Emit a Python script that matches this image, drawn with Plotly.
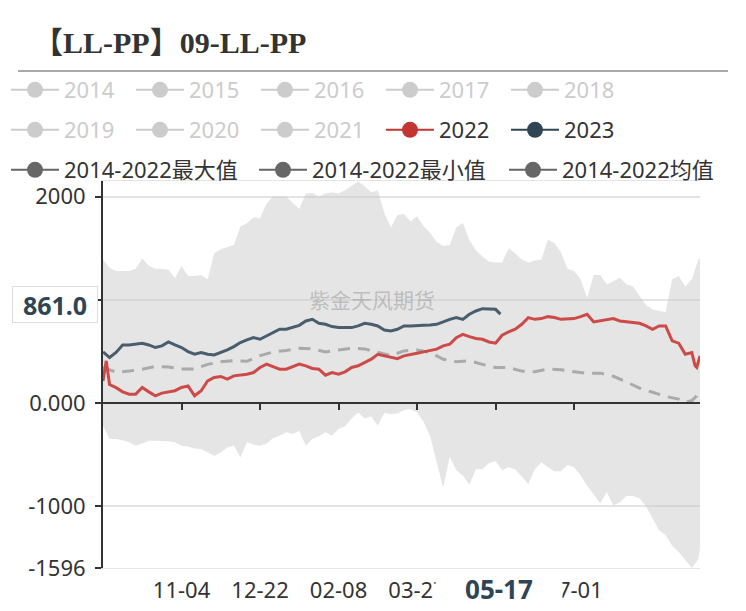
import plotly.graph_objects as go
import pandas as pd

# ---------------- data ----------------
# category axis: every calendar day of the season (leap-year calendar), labelled MM-DD
all_days = pd.date_range("2019-09-17", "2020-09-16").strftime("%m-%d").tolist()
tick_labels = ["11-04", "12-22", "02-08", "03-27", "05-14", "07-01"]
tick_texts = ["11-04", "12-22", "02-08", "03-27", "", "07-01"]  # 05-14 sits under the pointer label

# band (2014-2022 max / min), sampled every 4 days
band_days = all_days[::4] + [all_days[-1]]
max_vals = [1391, 1310, 1278, 1278, 1278, 1300, 1400, 1330, 1300, 1300,
            1290, 1210, 1327, 1230, 1230, 1240, 1200, 1450, 1490, 1510,
            1530, 1710, 1740, 1800, 1790, 1930, 2000, 2000, 2000, 1940,
            1880, 2030, 2035, 2000, 2030, 2040, 2030, 2060, 2100, 2145,
            2100, 2040, 2060, 1840, 1700, 1820, 1830, 1760, 1810, 1713,
            1650, 1560, 1520, 1530, 1700, 1745, 1580, 1480, 1420, 1370,
            1360, 1360, 1500, 1450, 1390, 1360, 1380, 1390, 1584, 1550,
            1460, 1300, 1280, 1200, 1020, 1240, 1240, 1150, 1180, 1214,
            1150, 1130, 1040, 950, 905, 890, 880, 1200, 1230, 1130,
            1200, 1391, 1400]
min_vals = [-219, -348, -348, -360, -380, -412, -390, -364, -364, -364,
            -370, -380, -412, -420, -440, -444, -480, -509, -477, -430,
            -410, -525, -380, -400, -412, -390, -340, -316, -283, -300,
            -267, -412, -348, -320, -283, -316, -250, -225, -150, -90,
            -150, -130, -219, -95, -106, -100, -70, -58, -90, -180,
            -320, -560, -820, -520, -650, -700, -790, -638, -640, -580,
            -560, -650, -620, -640, -710, -782, -640, -573, -620, -660,
            -660, -600, -620, -700, -800, -890, -970, -860, -990, -960,
            -900, -900, -920, -1000, -1120, -1230, -1280, -1380, -1440, -1523,
            -1596, -1510, -1400]

# 2014-2022 mean
mean_days = all_days[0:353:8] + [all_days[356], all_days[360], all_days[363], all_days[365]]
mean_vals = [344, 300, 310, 328, 355, 350, 330, 330, 375, 400,
             410, 405, 460, 495, 510, 530, 525, 495, 515, 530,
             525, 490, 460, 505, 515, 490, 425, 400, 410, 375,
             345, 345, 310, 303, 330, 322, 305, 287, 290, 260,
             205, 145, 105, 65, 39, 8, 25, 70, 135]

# 2022
days_2022 = [all_days[0], all_days[2]] + all_days[4:361:4] + [all_days[362], all_days[363], all_days[365]]
vals_2022 = [215, 409,
             180, 150, 109, 87, 87, 151, 109, 71, 97, 109,
             120, 151, 167, 71, 119, 216, 248, 258, 232, 264,
             270, 280, 296, 345, 377, 354, 328, 328, 354, 377,
             361, 335, 328, 270, 296, 280, 303, 345, 361, 393,
             425, 473, 457, 441, 431, 457, 473, 483, 496, 506,
             522, 554, 570, 634, 666, 644, 625, 618, 592, 580,
             657, 689, 715, 763, 828, 811, 818, 837, 828, 811,
             811, 818, 837, 860, 786, 795, 811, 818, 795, 786,
             779, 773, 747, 715, 747, 747, 602, 580, 473, 489,
             361, 345, 457]

# 2023
days_2023 = all_days[0:241:4] + [all_days[243]]
vals_2023 = [496, 441, 490, 563, 563, 570, 580, 563, 538, 554,
             592, 563, 538, 499, 473, 489, 473, 467, 489, 515,
             547, 586, 612, 634, 618, 650, 689, 715, 715, 731,
             753, 795, 811, 773, 763, 741, 731, 731, 731, 747,
             773, 763, 747, 708, 699, 715, 747, 747, 747, 753,
             757, 763, 786, 811, 828, 811, 860, 892, 914, 908,
             908, 861]

legend_row1 = ["2014", "2015", "2016", "2017", "2018"]
legend_row2_off = ["2019", "2020", "2021"]
legend_row3 = ["2014-2022最大值", "2014-2022最小值", "2014-2022均值"]
pointer_y_text = "861.0"
pointer_x_text = "05-17"

# ---------------- layout helpers ----------------
# the page body adds an 8px offset, so the figure is drawn 8px smaller and all
# reference (screen) pixel positions are converted with OFS
OFS = 8
FW, FH = 746 - OFS, 611 - OFS
L, R, T, B = 103 - OFS, 46, 181 - OFS, 43
PW, PH = FW - L - R, FH - T - B
Y0, Y1 = -1596, 2150


def pxx(x):          # screen x -> paper x
    return (x - OFS - L) / PW


def pxy(y):          # screen y -> paper y
    return (FH - B - (y - OFS)) / PH


def cy(y):           # screen y -> container y
    return 1 - (y - OFS) / FH


def cx(x):           # screen x -> container x
    return (x - OFS) / FW


FONT = "Noto Sans, Noto Sans CJK SC, sans-serif"
RED, RED_LINE = "#c23531", "#cc4a47"
DARK, DARK_LINE = "#2f4554", "#4a5d6d"
OFF = "#cccccc"
GREY = "#666666"
FS = 22

fig = go.Figure()

band_fill = "rgba(200,200,200,0.48)"
fig.add_trace(go.Scatter(x=band_days, y=max_vals, mode="lines", fill="tozeroy",
                         fillcolor=band_fill, line=dict(width=0), showlegend=False,
                         hoverinfo="skip"))
fig.add_trace(go.Scatter(x=band_days, y=min_vals, mode="lines", fill="tozeroy",
                         fillcolor=band_fill, line=dict(width=0), showlegend=False,
                         hoverinfo="skip"))
fig.add_trace(go.Scatter(x=mean_days, y=mean_vals, mode="lines", xaxis="x2",
                         line=dict(color="#aaaaaa", width=3, dash="12px,8px"),
                         showlegend=False, hoverinfo="skip"))
fig.add_trace(go.Scatter(x=days_2022, y=vals_2022, mode="lines", xaxis="x2",
                         line=dict(color=RED_LINE, width=3), showlegend=False,
                         hoverinfo="skip"))
fig.add_trace(go.Scatter(x=days_2023, y=vals_2023, mode="lines", xaxis="x2",
                         line=dict(color=DARK_LINE, width=3), showlegend=False,
                         hoverinfo="skip"))

# legend entries: (name, colour, text colour, screen x of symbol start, screen y of row)
row_x5 = [12, 137, 262, 387, 512]
row_x3 = [12, 260, 510]
entries = []
for n, x in zip(legend_row1, row_x5):
    entries.append((n, OFF, OFF, x, 90))
for n, x in zip(legend_row2_off, row_x5[:3]):
    entries.append((n, OFF, OFF, x, 130))
entries.append(("2022", RED, "#333333", row_x5[3], 130))
entries.append(("2023", DARK, "#333333", row_x5[4], 130))
for n, x in zip(legend_row3, row_x3):
    entries.append((n, GREY, "#333333", x, 170))

legend_layout = {}
for i, (name, color, tcolor, sx, sy) in enumerate(entries):
    key = "legend" if i == 0 else "legend%d" % (i + 1)
    fig.add_trace(go.Scatter(x=[None], y=[None], mode="lines+markers", name=name,
                             legend=key, hoverinfo="skip",
                             line=dict(color=color, width=2),
                             marker=dict(color=color, size=16, symbol="circle")))
    legend_layout[key] = dict(orientation="h", xref="paper", yref="container",
                              x=pxx(sx - 6), xanchor="left",
                              y=cy(sy), yanchor="middle",
                              itemwidth=48, bgcolor="rgba(0,0,0,0)",
                              itemclick=False, itemdoubleclick=False,
                              font=dict(family=FONT, size=FS, color=tcolor))

zero_pos = (0 - Y0) / (Y1 - Y0)

fig.update_layout(
    width=FW, height=FH,
    margin=dict(l=L, r=R, t=T, b=B, pad=0, autoexpand=False),
    paper_bgcolor="white", plot_bgcolor="white",
    font=dict(family=FONT, color="#333333", size=FS),
    hovermode=False,
    title=dict(text="【LL-PP】09-LL-PP", xref="container", yref="container",
               x=cx(33), xanchor="left", y=cy(42), yanchor="middle",
               font=dict(family="Liberation Serif, Noto Sans CJK SC, serif",
                         size=30, color="#333333", weight="bold")),
    xaxis=dict(type="category", categoryorder="array", categoryarray=all_days,
               range=[0, len(all_days) - 1], tickmode="array",
               tickvals=tick_labels, ticktext=tick_texts,
               showgrid=False, zeroline=False,
               showline=True, linecolor="#e4e4e4", linewidth=1, mirror=True,
               ticks="", ticklabelstandoff=3,
               tickfont=dict(family=FONT, size=FS, color="#333333")),
    xaxis2=dict(type="category", categoryorder="array", categoryarray=all_days,
                matches="x", overlaying="x", anchor="free", position=zero_pos,
                side="bottom", tickmode="array", tickvals=tick_labels,
                showticklabels=False, ticks="outside", ticklen=6,
                tickcolor="#333333", tickwidth=1.5,
                showline=True, linecolor="#333333", linewidth=2,
                showgrid=False, zeroline=False),
    yaxis=dict(range=[Y0, Y1], tickmode="array",
               tickvals=[-1596, -1000, 0, 1000, 2000],
               ticktext=["-1596", "-1000", "0.000", "", "2000"],
               showgrid=True, gridcolor="#e4e4e4", gridwidth=1.5,
               zeroline=False, showline=True, linecolor="#333333", linewidth=2,
               ticks="outside", ticklen=6, tickcolor="#333333", tickwidth=1.5,
               ticklabelstandoff=5,
               tickfont=dict(family=FONT, size=FS, color="#333333")),
    **legend_layout,
)

# separator under title
fig.add_shape(type="line", xref="paper", yref="paper",
              x0=pxx(18), x1=pxx(728), y0=pxy(71), y1=pxy(71),
              line=dict(color="#aaaaaa", width=2))

# watermark
fig.add_annotation(text="紫金天风期货", xref="paper", yref="paper",
                   x=pxx(372), y=pxy(284), showarrow=False,
                   font=dict(family=FONT, size=21, color="rgba(140,140,140,0.45)"))

# axis-pointer labels
fig.add_annotation(text="<b>%s</b>" % pointer_y_text, xref="paper", yref="paper",
                   x=pxx(12), xanchor="left", y=pxy(304), yanchor="middle",
                   showarrow=False, width=80, height=31, borderpad=2,
                   bgcolor="white", bordercolor="#dddddd", borderwidth=1,
                   font=dict(family=FONT, size=25, color=DARK))
fig.add_annotation(text="<b>%s</b>" % pointer_x_text, xref="paper", yref="paper",
                   x=pxx(499), xanchor="center", y=pxy(589), yanchor="middle",
                   showarrow=False, width=126, height=30, borderpad=0,
                   bgcolor="white",
                   font=dict(family=FONT, size=26, color=DARK))

fig.write_html("out.html", config={"displayModeBar": False})
